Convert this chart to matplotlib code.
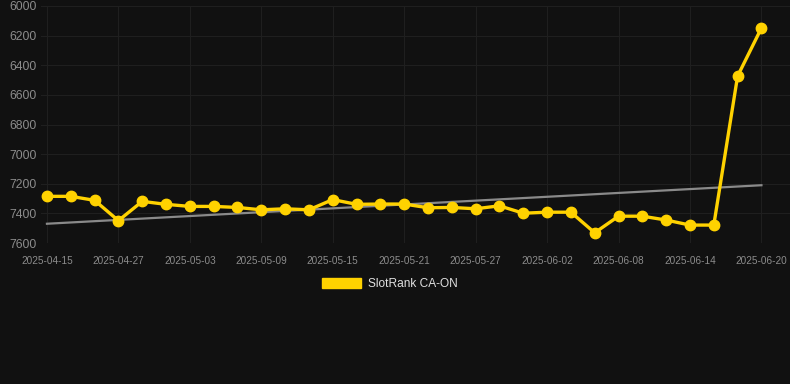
import numpy as np
import matplotlib
matplotlib.use('Agg')
import matplotlib.pyplot as plt
from matplotlib.patches import Patch

plt.rcParams['font.family'] = ['Liberation Sans', 'DejaVu Sans']

# Category axis: one entry per observation
dates = ['2025-04-15', '2025-04-19', '2025-04-23', '2025-04-27', '2025-04-29',
         '2025-05-01', '2025-05-03', '2025-05-05', '2025-05-07', '2025-05-09',
         '2025-05-11', '2025-05-13', '2025-05-15', '2025-05-17', '2025-05-19',
         '2025-05-21', '2025-05-23', '2025-05-25', '2025-05-27', '2025-05-29',
         '2025-05-31', '2025-06-02', '2025-06-04', '2025-06-06', '2025-06-08',
         '2025-06-10', '2025-06-12', '2025-06-14', '2025-06-16', '2025-06-18',
         '2025-06-20']
ranks = [7285, 7285, 7312, 7449, 7319, 7339, 7353, 7353, 7360, 7376,
         7369, 7376, 7307, 7339, 7337, 7337, 7362, 7360, 7369, 7349,
         7399, 7392, 7392, 7531, 7419, 7419, 7445, 7479, 7479, 6473,
         6149]
# trend line end values (first and last observation)
trend_ends = [7470, 7210]
yticks = [6000, 6200, 6400, 6600, 6800, 7000, 7200, 7400, 7600]

bg = '#111111'
gold = '#FFD200'

fig = plt.figure(figsize=(7.9, 3.84), dpi=100, facecolor=bg)
ax = fig.add_axes([41 / 790, 141 / 384, 749 / 790, 237 / 384], facecolor=bg)

x = np.arange(len(ranks))
ax.plot([x[0], x[-1]], trend_ends, color='#8a8a8a', lw=1.6, zorder=2)
ax.plot(x, ranks, color=gold, lw=2.4, marker='o', markersize=7.5, zorder=3)

ax.set_ylim(7600, 6000)
ax.set_xlim(-0.25, 31.2)
ax.set_yticks(yticks)
ax.set_xticks(x[::3])
ax.set_xticklabels(dates[::3])
ax.tick_params(axis='y', colors='#8c8c8c', labelsize=8.8, length=0, pad=3)
ax.tick_params(axis='x', colors='#8c8c8c', labelsize=7.2, length=0, pad=9)
ax.grid(True, color='#1f1f1f', lw=0.8)
for s in ax.spines.values():
    s.set_visible(False)

fig.legend(handles=[Patch(facecolor=gold, edgecolor=gold, label='SlotRank CA-ON')],
           loc='center', bbox_to_anchor=(390 / 790, 1 - 284 / 384), frameon=False,
           handlelength=3.3, handleheight=0.9, fontsize=8.6, labelcolor='#e0e0e0',
           handletextpad=0.6)

plt.savefig('out.png', dpi=100, facecolor=bg)
plt.close(fig)
